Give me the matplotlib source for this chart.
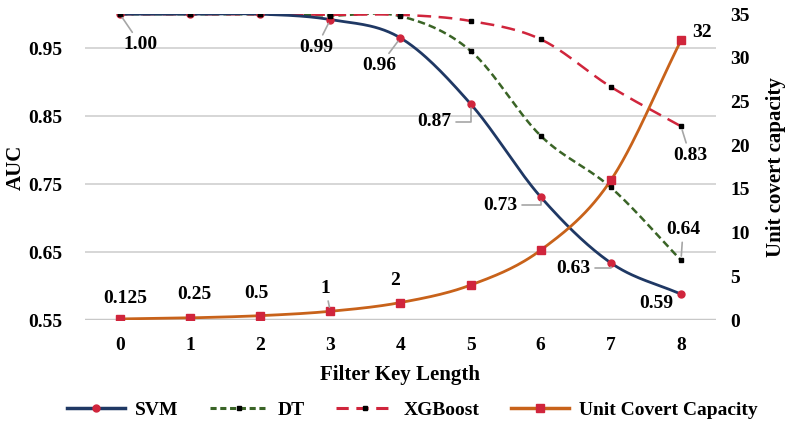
import numpy as np
import matplotlib
matplotlib.use("Agg")
import matplotlib.pyplot as plt
from matplotlib.lines import Line2D

x_labels = ["0", "1", "2", "3", "4", "5", "6", "7", "8"]
key_len = [0, 1, 2, 3, 4, 5, 6, 7, 8]
svm = [1.00, 1.00, 1.00, 0.992, 0.965, 0.868, 0.731, 0.634, 0.588]
dt = [1.00, 1.00, 1.00, 0.998, 0.997, 0.946, 0.821, 0.745, 0.638]
xgb = [1.00, 1.00, 1.00, 0.999, 0.999, 0.990, 0.963, 0.893, 0.835]
capacity = [0.125, 0.25, 0.5, 1, 2, 4, 8, 16, 32]

svm_labels = ["1.00", None, None, "0.99", "0.96", "0.87", "0.73", "0.63", "0.59"]
cap_labels = ["0.125", "0.25", "0.5", "1", "2", None, None, None, "32"]

plt.rcParams['font.family'] = ['Liberation Serif', 'DejaVu Serif']
plt.rcParams['font.weight'] = 'bold'
FS = 14


def smooth(xs, ys, n=30):
    xs = np.asarray(xs, float)
    ys = np.asarray(ys, float)
    px = np.concatenate([[2 * xs[0] - xs[1]], xs, [2 * xs[-1] - xs[-2]]])
    py = np.concatenate([[2 * ys[0] - ys[1]], ys, [2 * ys[-1] - ys[-2]]])
    ox, oy = [], []
    t = np.linspace(0, 1, n, endpoint=False)
    for i in range(1, len(px) - 2):
        p0, p1, p2, p3 = [np.array([px[j], py[j]]) for j in (i - 1, i, i + 1, i + 2)]
        c1 = p1 + (p2 - p0) / 6
        c2 = p2 - (p3 - p1) / 6
        b = ((1 - t) ** 3)[:, None] * p1 + (3 * (1 - t) ** 2 * t)[:, None] * c1 + \
            (3 * (1 - t) * t ** 2)[:, None] * c2 + (t ** 3)[:, None] * p2
        ox.extend(b[:, 0]); oy.extend(b[:, 1])
    ox.append(xs[-1]); oy.append(ys[-1])
    return np.array(ox), np.array(oy)


fig = plt.figure(figsize=(7.93, 4.29), dpi=100)
ax = fig.add_axes([0.107, 0.254, 0.796, 0.713])
ax2 = ax.twinx()

c_svm = '#1F3864'
c_dt = '#3A6426'
c_xgb = '#D0253C'
c_cap = '#C8621A'
c_mk = '#D0253C'

sx, sy = smooth(key_len, svm)
ax.plot(sx, sy, color=c_svm, lw=2.0, zorder=4)
ax.plot(key_len, svm, ls='none', marker='o', ms=5, mfc=c_mk, mec=c_mk, zorder=5)

dx, dy = smooth(key_len, dt)
ax.plot(dx, dy, color=c_dt, lw=1.8, ls=(0, (3, 1.6)), zorder=3)
ax.plot(key_len, dt, ls='none', marker='s', ms=3, mfc='black', mec='black', zorder=5)

xx, xy = smooth(key_len, xgb)
ax.plot(xx, xy, color=c_xgb, lw=1.8, ls=(0, (5.5, 3)), zorder=3)
ax.plot(key_len, xgb, ls='none', marker='s', ms=3, mfc='black', mec='black', zorder=5)

cx, cy = smooth(key_len, capacity)
ax2.plot(cx, cy, color=c_cap, lw=2.0, zorder=4)
ax2.plot(key_len, capacity, ls='none', marker='s', ms=5.5, mfc=c_mk, mec=c_mk, zorder=5)

ax.set_xlim(-0.5, 8.5)
ax.set_ylim(0.55, 1.0)
ax2.set_ylim(0, 35)
ax.set_xticks(key_len)
ax.set_xticklabels(x_labels)
ax.set_yticks([0.55, 0.65, 0.75, 0.85, 0.95])
ax.set_yticklabels(["0.55", "0.65", "0.75", "0.85", "0.95"])
ax2.set_yticks([0, 5, 10, 15, 20, 25, 30, 35])

for a in (ax, ax2):
    for s in ('top', 'left', 'right', 'bottom'):
        a.spines[s].set_visible(False)
    a.tick_params(length=0, labelsize=FS)
ax.tick_params(axis='x', pad=12)
ax.tick_params(axis='y', pad=16)
ax2.tick_params(axis='y', pad=10)
ax.yaxis.grid(True, color='#D0D0D0', lw=1.2)
ax.set_axisbelow(True)
ax.axhline(0.55, color='#C8C8C8', lw=2.5, zorder=1)

ax.set_xlabel("Filter Key Length", fontsize=15, fontweight='bold', labelpad=8)
ax.set_ylabel("AUC", fontsize=15, fontweight='bold', labelpad=2)
ax2.set_ylabel("Unit covert capacity", fontsize=15, fontweight='bold', labelpad=12)

grey = '#A6A6A6'
straight = dict(arrowstyle='-', color=grey, lw=1.2, shrinkA=1, shrinkB=3)
elbow = dict(arrowstyle='-', color=grey, lw=1.2, shrinkA=1, shrinkB=3,
             connectionstyle='angle,angleA=0,angleB=90,rad=0')

svm_off = {0: (15, -22, straight), 3: (-10, -20, straight), 4: (-15, -20, straight),
           5: (-26, -13, elbow), 6: (-29, -6, elbow), 7: (-27, -4, elbow), 8: (-18, -7, None)}
for i, lab in enumerate(svm_labels):
    if lab is None:
        continue
    ox, oy, arr = svm_off[i]
    ax.annotate(lab, xy=(key_len[i], svm[i]), xytext=(ox, oy), textcoords='offset points',
                ha='center', va='center', fontsize=FS, fontweight='bold', zorder=6,
                arrowprops=arr)

ax.annotate("0.83", xy=(8, xgb[8]), xytext=(6.5, -21), textcoords='offset points',
            ha='center', va='center', fontsize=FS, fontweight='bold', arrowprops=straight)
ax.annotate("0.64", xy=(8, dt[8]), xytext=(1.5, 22), textcoords='offset points',
            ha='center', va='center', fontsize=FS, fontweight='bold', arrowprops=straight)

cap_off = {0: (4, 15), 1: (3, 16.5), 2: (-3, 16), 3: (-3.5, 16.5), 4: (-4, 16), 8: (15, 6)}
for i, lab in enumerate(cap_labels):
    if lab is None:
        continue
    ox, oy = cap_off[i]
    ax2.annotate(lab, xy=(key_len[i], capacity[i]), xytext=(ox, oy), textcoords='offset points',
                 ha='center', va='center', fontsize=FS, fontweight='bold', zorder=6,
                 arrowprops=straight if i == 3 else None)

handles = [
    Line2D([], [], color=c_svm, lw=2.5, marker='o', ms=5, mfc=c_mk, mec=c_mk),
    Line2D([], [], color=c_dt, lw=2.2, ls=(0, (2, 1.2)), marker='s', ms=3, mfc='black', mec='black'),
    Line2D([], [], color=c_xgb, lw=2.2, ls=(0, (4, 2.5)), marker='s', ms=3, mfc='black', mec='black'),
    Line2D([], [], color=c_cap, lw=2.5, marker='s', ms=5.5, mfc=c_mk, mec=c_mk),
]
fig.legend(handles, ["SVM", "DT", "XGBoost", "Unit Covert Capacity"], loc='center',
           bbox_to_anchor=(0.52, 0.045), ncol=4, frameon=False, fontsize=FS,
           handlelength=3.0, columnspacing=1.6, handletextpad=0.5)

fig.savefig("out.png", dpi=100)
